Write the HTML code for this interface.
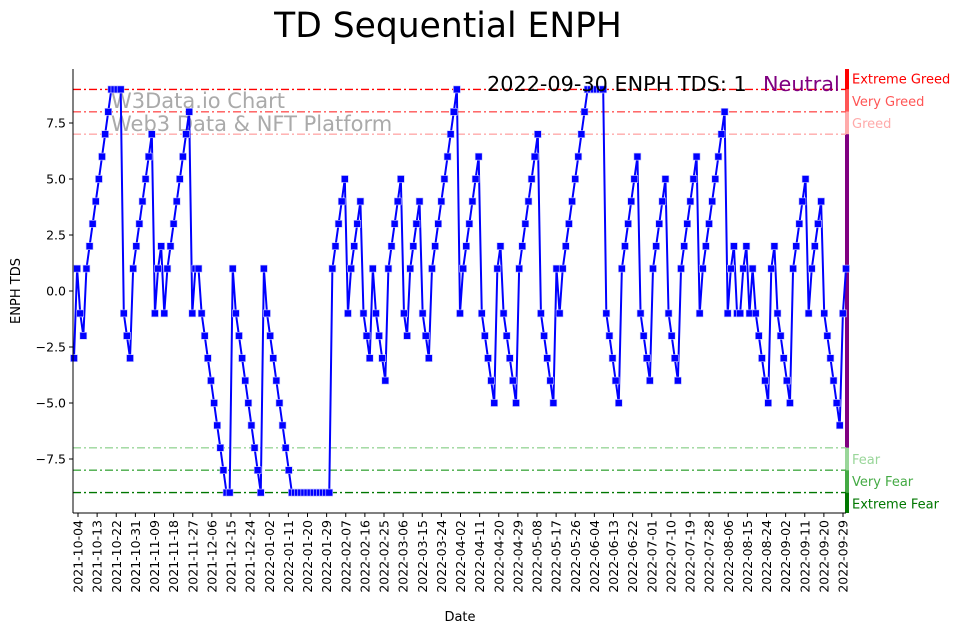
<!DOCTYPE html>
<html><head><meta charset="utf-8">
<style>
html,body{margin:0;padding:0;background:#fff;}
svg{display:block;font-family:"DejaVu Sans","Liberation Sans",sans-serif;}
</style></head>
<body>
<svg id="chart" width="967" height="633">
  <text x="448" y="37" font-size="34.5" text-anchor="middle">TD Sequential ENPH</text>
  <g id="bands"></g>
  <g id="grid"></g>
  <text x="111" y="108" font-size="21" fill="#aaa">W3Data.io Chart</text>
  <text x="111" y="131" font-size="21" fill="#aaa">Web3 Data &amp; NFT Platform</text>
  <g id="series"></g>
  <g id="axes"></g>
  <text x="487" y="91" font-size="20.8">2022-09-30 ENPH TDS: 1</text>
  <text x="763" y="91" font-size="20.8" fill="#800080">Neutral</text>
  <text x="460" y="621" font-size="13" text-anchor="middle">Date</text>
  <text transform="translate(20,291) rotate(-90)" font-size="13" text-anchor="middle">ENPH TDS</text>
</svg>
<script>
const tdsValues = [-3,1,-1,-2,1,2,3,4,5,6,7,8,9,9,9,9,-1,-2,-3,1,2,3,4,5,6,7,-1,1,2,-1,1,2,3,4,5,6,7,8,-1,1,1,-1,-2,-3,-4,-5,-6,-7,-8,-9,-9,1,-1,-2,-3,-4,-5,-6,-7,-8,-9,1,-1,-2,-3,-4,-5,-6,-7,-8,-9,-9,-9,-9,-9,-9,-9,-9,-9,-9,-9,-9,-9,1,2,3,4,5,-1,1,2,3,4,-1,-2,-3,1,-1,-2,-3,-4,1,2,3,4,5,-1,-2,1,2,3,4,-1,-2,-3,1,2,3,4,5,6,7,8,9,-1,1,2,3,4,5,6,-1,-2,-3,-4,-5,1,2,-1,-2,-3,-4,-5,1,2,3,4,5,6,7,-1,-2,-3,-4,-5,1,-1,1,2,3,4,5,6,7,8,9,9,9,9,9,9,-1,-2,-3,-4,-5,1,2,3,4,5,6,-1,-2,-3,-4,1,2,3,4,5,-1,-2,-3,-4,1,2,3,4,5,6,-1,1,2,3,4,5,6,7,8,-1,1,2,-1,-1,1,2,-1,1,-1,-2,-3,-4,-5,1,2,-1,-2,-3,-4,-5,1,2,3,4,5,-1,1,2,3,4,-1,-2,-3,-4,-5,-6,-1,1];
const yTicks = [-7.5,-5.0,-2.5,0.0,2.5,5.0,7.5];
const xTickLabels = ["2021-10-04","2021-10-13","2021-10-22","2021-10-31","2021-11-09","2021-11-18","2021-11-27","2021-12-06","2021-12-15","2021-12-24","2022-01-02","2022-01-11","2022-01-20","2022-01-29","2022-02-07","2022-02-16","2022-02-25","2022-03-06","2022-03-15","2022-03-24","2022-04-02","2022-04-11","2022-04-20","2022-04-29","2022-05-08","2022-05-17","2022-05-26","2022-06-04","2022-06-13","2022-06-22","2022-07-01","2022-07-10","2022-07-19","2022-07-28","2022-08-06","2022-08-15","2022-08-24","2022-09-02","2022-09-11","2022-09-20","2022-09-29"];
const levelValues = [9,8,7,-7,-8,-9];
const levelNames = ["Extreme Greed","Very Greed","Greed","Fear","Very Fear","Extreme Fear"];
const levelColors = ["#ff0000","#ff5555","#ffaaaa","#99d699","#44aa44","#007700"];

const NS="http://www.w3.org/2000/svg";
const L=73,R=846,T=69,B=513;
function y(v){return 291 - v*22.4;}
function xi(i){return 74 + i*(R-74)/(tdsValues.length-1);}
function xt(i){return 78 + i*(843-78)/(xTickLabels.length-1);}
function mk(tag,attrs,parent){const e=document.createElementNS(NS,tag);for(const k in attrs)e.setAttribute(k,attrs[k]);parent.appendChild(e);return e;}

const grid=document.getElementById('grid'), bands=document.getElementById('bands'), axes=document.getElementById('axes'), series=document.getElementById('series');
levelValues.forEach((v,i)=>{
  const ln=mk('line',{x1:L,x2:R,y1:y(v),y2:y(v),stroke:levelColors[i],'stroke-width':1.4,'stroke-dasharray':'8,3,2,3'},grid);
  
  
  const tx=mk('text',{x:852,y:y(v)+(v>0?-6:16),'font-size':13,fill:levelColors[i]},grid);
  tx.textContent=levelNames[i];
  
  
});
const segs=[[9.91,9,"#ff0000"],[9,8,"#ff5555"],[8,7,"#ffaaaa"],[7,-7,"#800080"],[-7,-8,"#99d699"],[-8,-9,"#44aa44"],[-9,-9.91,"#007700"]];
segs.forEach((s,i)=>{
  const r=mk('rect',{x:845,y:y(s[0]),width:4,height:y(s[1])-y(s[0]),fill:s[2]},bands);
  
  
});
let d=tdsValues.map((v,i)=>(i?'L':'M')+xi(i).toFixed(2)+','+y(v).toFixed(2)).join(' ');
const path=mk('path',{d:d,fill:'none',stroke:'#0000ff','stroke-width':2},series);


tdsValues.forEach((v,i)=>{
  const m=mk('rect',{x:xi(i)-3.5,y:y(v)-3.5,width:7,height:7,fill:'#0000ff',stroke:'#c8c8ff','stroke-width':0.6},series);
  
  
});
const la=mk('line',{x1:L,x2:L,y1:T,y2:B,stroke:'#000','stroke-width':1},axes);


const ba=mk('line',{x1:L,x2:R,y1:B,y2:B,stroke:'#000','stroke-width':1},axes);


yTicks.forEach(v=>{
  const t=mk('line',{x1:L-4,x2:L,y1:y(v),y2:y(v),stroke:'#000'},axes);
  
  
  const tx=mk('text',{x:L-7,y:y(v)+4.5,'font-size':12.5,'text-anchor':'end'},axes);
  tx.textContent=v.toFixed(1).replace('-','−');
  
  
});
xTickLabels.forEach((s,i)=>{
  const x=xt(i);
  const t=mk('line',{x1:x,x2:x,y1:B,y2:B+4,stroke:'#000'},axes);
  
  
  const tx=mk('text',{transform:`translate(${x+4.5},${B+7}) rotate(-90)`,'font-size':12.5,'text-anchor':'end'},axes);
  tx.textContent=s;
  
  
});
</script>
</body></html>
